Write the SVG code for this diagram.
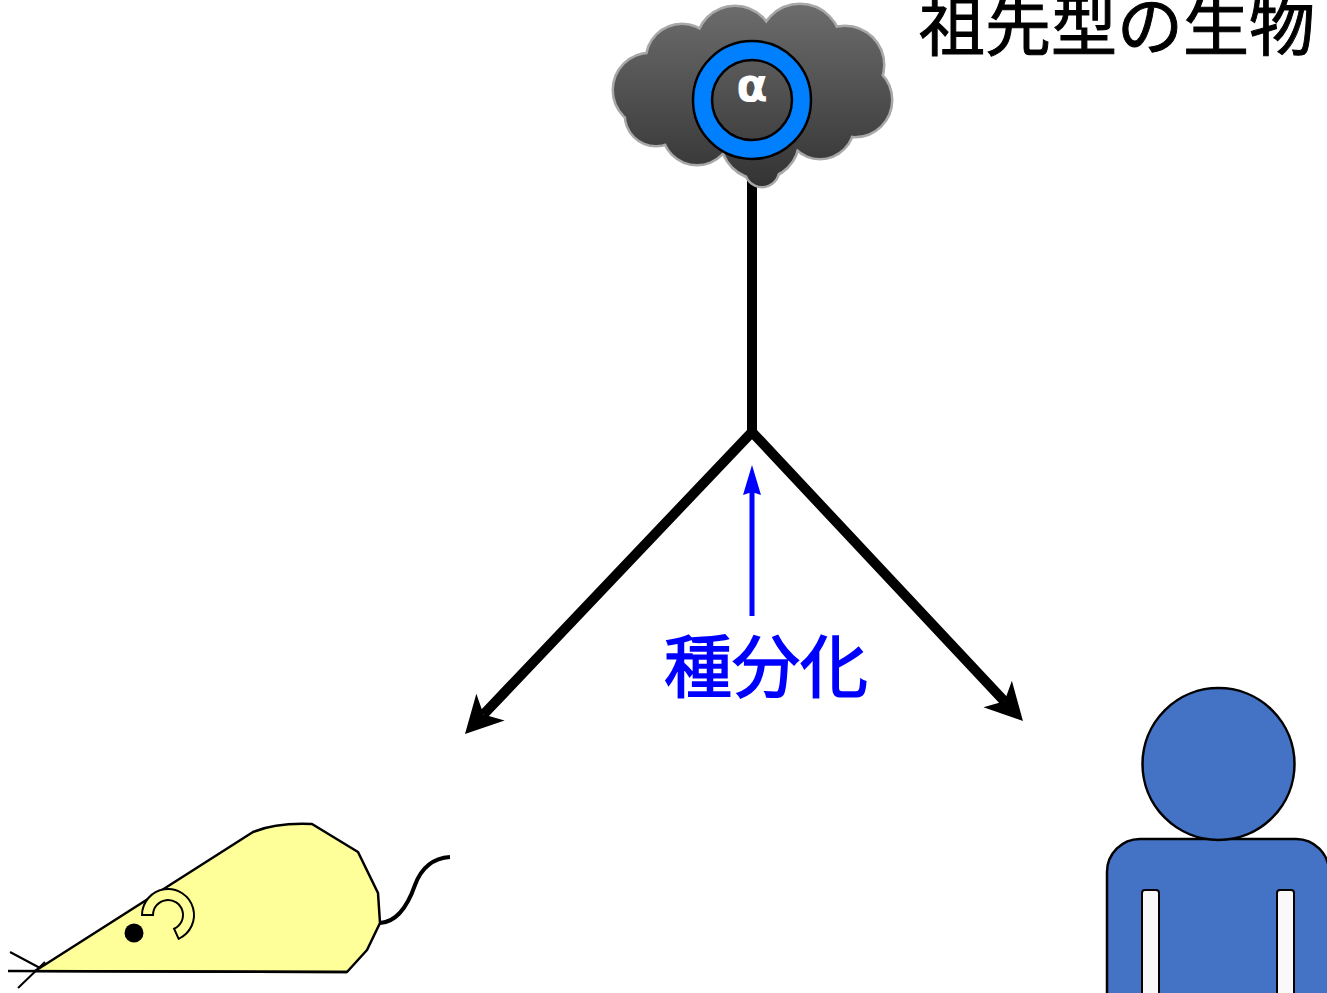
<svg xmlns="http://www.w3.org/2000/svg" width="1327" height="993" viewBox="0 0 1327 993">
  <style>
    .cjk { font-family: "Noto Sans CJK JP", "Noto Sans", sans-serif; }
    .branch { fill: none; stroke: #000; stroke-width: 10; stroke-linejoin: miter; }
    .outline { stroke: #000; stroke-width: 2.5; }
    .lobe-edge { fill: #a8a8a8; stroke: #a8a8a8; stroke-width: 5; }
    .lobe { fill: url(#cloudFill); }
  </style>
  <defs>
    <linearGradient id="cloudFill" gradientUnits="userSpaceOnUse" x1="0" y1="5" x2="0" y2="187">
      <stop offset="0" stop-color="#6c6c6c"/>
      <stop offset="1" stop-color="#333333"/>
    </linearGradient>
    <marker id="bigHead" markerUnits="userSpaceOnUse" viewBox="-12 -21 42 42" markerWidth="42" markerHeight="42" refX="0" refY="0" orient="auto-start-reverse">
      <path d="M27,0 L-10,-19.5 L0,0 L-10,19.5 Z" fill="#000"/>
    </marker>
    <marker id="blueHead" markerUnits="userSpaceOnUse" viewBox="-6 -11 36 22" markerWidth="36" markerHeight="22" refX="0" refY="0" orient="auto">
      <path d="M27,0 L-3,-9 L0,0 L-3,9 Z" fill="#0000ff"/>
    </marker>
  </defs>
  <rect width="1327" height="993" fill="#ffffff"/>

  <!-- connectors: trunk, two branches, speciation pointer -->
  <g id="connectors">
    <path class="branch" d="M752,170 V436"/>
    <path class="branch" d="M483.6,714.4 L752,432 L1004.5,701.3" marker-start="url(#bigHead)" marker-end="url(#bigHead)"/>
    <path d="M752,616 V492" fill="none" stroke="#0000ff" stroke-width="5" marker-end="url(#blueHead)"/>
  </g>

  <!-- ancestral organism: cloud with alpha ring -->
  <g id="ancestor">
    <g>
      <circle class="lobe-edge" cx="650" cy="90" r="36"/>
      <circle class="lobe-edge" cx="682" cy="60" r="35"/>
      <circle class="lobe-edge" cx="735" cy="45" r="38"/>
      <circle class="lobe-edge" cx="800" cy="45" r="40"/>
      <circle class="lobe-edge" cx="845" cy="65" r="38"/>
      <circle class="lobe-edge" cx="855" cy="100" r="36"/>
      <circle class="lobe-edge" cx="820" cy="125" r="33"/>
      <circle class="lobe-edge" cx="760" cy="140" r="38"/>
      <circle class="lobe-edge" cx="762" cy="170" r="16"/>
      <circle class="lobe-edge" cx="697" cy="130" r="34"/>
      <circle class="lobe-edge" cx="656" cy="115" r="30"/>
    </g>
    <g>
      <circle class="lobe" cx="650" cy="90" r="36"/>
      <circle class="lobe" cx="682" cy="60" r="35"/>
      <circle class="lobe" cx="735" cy="45" r="38"/>
      <circle class="lobe" cx="800" cy="45" r="40"/>
      <circle class="lobe" cx="845" cy="65" r="38"/>
      <circle class="lobe" cx="855" cy="100" r="36"/>
      <circle class="lobe" cx="820" cy="125" r="33"/>
      <circle class="lobe" cx="760" cy="140" r="38"/>
      <circle class="lobe" cx="762" cy="170" r="16"/>
      <circle class="lobe" cx="697" cy="130" r="34"/>
      <circle class="lobe" cx="656" cy="115" r="30"/>
      <ellipse class="lobe" cx="752" cy="95" rx="110" ry="55"/>
    </g>
    <circle cx="752" cy="100" r="59" fill="#0080ff" class="outline"/>
    <circle cx="752" cy="100" r="40" fill="url(#cloudFill)" class="outline"/>
    <text x="752" y="101" text-anchor="middle" font-family="DejaVu Sans, sans-serif" font-weight="bold" font-size="46" fill="#ffffff">α</text>
  </g>

  <g id="ancestor-label">
    <text class="cjk" x="919" y="50" font-size="66" fill="#000" stroke="#000" stroke-width="1">祖先型の生物</text>
  </g>

  <g id="speciation-label">
    <text class="cjk" x="664" y="692" font-size="68" fill="#0000ff" stroke="#0000ff" stroke-width="1.6">種分化</text>
  </g>

  <!-- mouse -->
  <g id="mouse">
    <path d="M380,923 C398,922 408,905 415,885 C422,866 435,858 450,857" fill="none" stroke="#000" stroke-width="4"/>
    <path d="M35,971 L253,832 C270,825 290,823 312,824 L358,852 L378,893 L380,923 L367,950 L347,972 Z" fill="#ffff99" class="outline" stroke-linejoin="round"/>
    <line x1="8" y1="971" x2="347" y2="972" stroke="#000" stroke-width="2.5"/>
    <line x1="10" y1="952" x2="40" y2="968" stroke="#000" stroke-width="2"/>
    <line x1="18" y1="988" x2="45" y2="962" stroke="#000" stroke-width="2"/>
    <circle cx="134" cy="933" r="9.5" fill="#000"/>
    <path d="M142,915 A26,26 0 1 1 178.6,938.8 L174.1,928.7 A15,15 0 1 0 153,915 Z" fill="#ffff99" stroke="#000" stroke-width="2"/>
  </g>

  <!-- human -->
  <g id="human">
    <path d="M1107,1000 V872 A33,33 0 0 1 1140,839 H1296 A33,33 0 0 1 1329,872 V1000 Z" fill="#4472c4" class="outline"/>
    <circle cx="1218.5" cy="764" r="76" fill="#4472c4" class="outline"/>
    <rect x="1142" y="890" width="17" height="120" rx="3" fill="#f9f9f9" stroke="#000" stroke-width="2"/>
    <rect x="1277" y="890" width="17" height="120" rx="3" fill="#f9f9f9" stroke="#000" stroke-width="2"/>
  </g>
</svg>
